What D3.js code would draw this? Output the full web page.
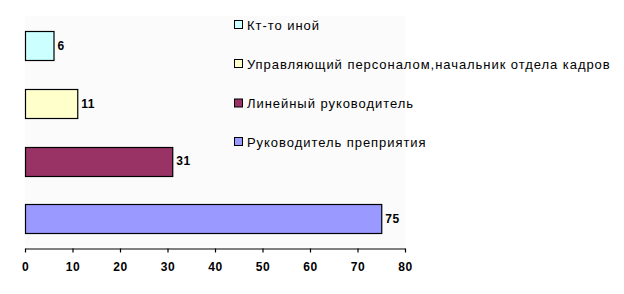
<!DOCTYPE html>
<html>
<head>
<meta charset="utf-8">
<script src="https://cdn.jsdelivr.net/npm/d3@7"></script>
<style>
  body { margin: 0; background: #fff; }
  svg { display: block; font-family: "Liberation Sans", Arial, sans-serif; }
</style>
</head>
<body>
<svg id="chart" width="624" height="294"></svg>
<script>
// categories, bottom to top as drawn
const categories = ['Руководитель преприятия', 'Линейный руководитель', 'Управляющий персоналом,начальник отдела кадров', 'Кт-то иной'];
const legendLabels = ['Кт-то иной', 'Управляющий персоналом,начальник отдела кадров', 'Линейный руководитель', 'Руководитель преприятия'];
const values = [75, 31, 11, 6];
const colors = ['#9999ff', '#993366', '#ffffcc', '#ccffff'];
const xTicks = [0, 10, 20, 30, 40, 50, 60, 70, 80];

const svg = d3.select('#chart');
const plot = { left: 25, right: 405, top: 17, bottom: 247.5 };

const x = d3.scaleLinear().domain([0, 80]).range([plot.left, plot.right]);
// top-to-bottom order is the reversed list
const y = d3.scaleBand()
  .domain(categories.slice().reverse())
  .range([plot.top, plot.bottom])
  .paddingInner(0.5)
  .paddingOuter(0.25);

// plot background
svg.append('rect')
  .attr('x', plot.left).attr('y', plot.top - 1)
  .attr('width', plot.right - plot.left).attr('height', plot.bottom - plot.top + 1)
  .attr('fill', '#fbfbfb');

// bars
const bars = categories.map((c, i) => ({ cat: c, value: values[i], color: colors[i] }));

svg.append('g').selectAll('rect')
  .data(bars)
  .join('rect')
  .attr('x', x(0) + 0.5)
  .attr('y', d => Math.round(y(d.cat)) + 0.5)
  .attr('width', d => x(d.value) - x(0))
  .attr('height', Math.round(y.bandwidth()))
  .attr('fill', d => d.color)
  .attr('stroke', '#000')
  .attr('stroke-width', 1.2);

// value labels
svg.append('g').selectAll('text')
  .data(bars)
  .join('text')
  .attr('x', d => x(d.value) + 4)
  .attr('y', d => y(d.cat) + y.bandwidth() / 2)
  .attr('dy', '0.35em')
  .attr('font-size', 12)
  .attr('font-weight', 'bold')
  .attr('letter-spacing', 0.5)
  .attr('fill', '#000')
  .text(d => d.value);

// x axis
const xAxis = svg.append('g')
  .attr('transform', `translate(0,${Math.round(plot.bottom) + 0.5})`)
  .call(d3.axisBottom(x).tickValues(xTicks).tickSize(4).tickSizeOuter(0).tickPadding(10));
xAxis.select('.domain').attr('stroke', '#000').attr('stroke-width', 1.2);
xAxis.selectAll('.tick line').attr('stroke', '#000').attr('stroke-width', 1.2);
xAxis.selectAll('.tick text')
  .attr('font-family', '"Liberation Sans", Arial, sans-serif')
  .attr('font-size', 12)
  .attr('font-weight', 'bold')
  .attr('letter-spacing', 0.5)
  .attr('fill', '#000');

// legend
const legend = svg.append('g');
const legendColors = colors.slice().reverse();
const rowY = [25, 64, 103.5, 142];
legendLabels.forEach((lbl, i) => {
  legend.append('rect')
    .attr('x', 234.5).attr('y', rowY[i] - 4.5)
    .attr('width', 8).attr('height', 8)
    .attr('fill', legendColors[i])
    .attr('stroke', '#000')
    .attr('stroke-width', 1);
  legend.append('text')
    .attr('x', 247).attr('y', rowY[i])
    .attr('dy', '0.35em')
    .attr('font-size', 13)
    .attr('letter-spacing', 0.95)
    .attr('fill', '#000')
    .text(lbl);
});
</script>
</body>
</html>
